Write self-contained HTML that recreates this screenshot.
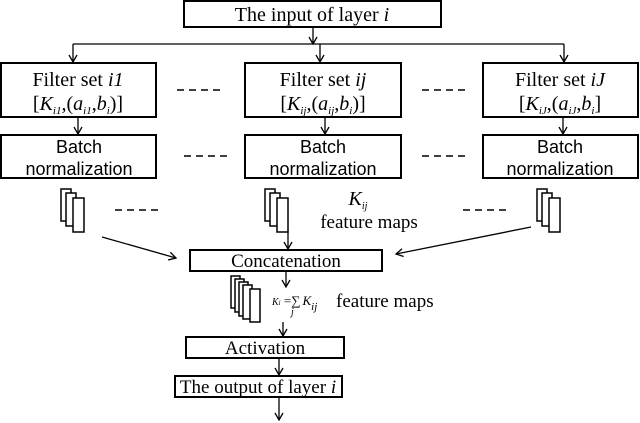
<!DOCTYPE html>
<html><head><style>body{margin:0;background:#fff}svg{display:block}</style></head><body>
<svg width="640" height="423" viewBox="0 0 640 423" xmlns="http://www.w3.org/2000/svg" font-family="Liberation Serif, serif" fill="none" stroke="#000">
<defs><marker id="a" markerWidth="10" markerHeight="10" refX="8" refY="5" orient="auto" markerUnits="userSpaceOnUse"><path d="M1,1 L8,5 L1,9" stroke="#000" stroke-width="1.3" fill="none"/></marker></defs>
<g stroke-width="2">
<rect x="184" y="1" width="257" height="26"/>
<rect x="1" y="63" width="155" height="54"/>
<rect x="245" y="63" width="156" height="54"/>
<rect x="483" y="63" width="155" height="54"/>
<rect x="1" y="135" width="155" height="43"/>
<rect x="245" y="135" width="156" height="43"/>
<rect x="483" y="135" width="155" height="43"/>
<rect x="190" y="250" width="192" height="21"/>
<rect x="186" y="337" width="158" height="21"/>
<rect x="175" y="376" width="167" height="21"/>
</g>
<g stroke-width="1.3" marker-end="url(#a)">
<line x1="313" y1="27" x2="313" y2="44"/>
<line x1="73" y1="44" x2="73" y2="62"/>
<line x1="320" y1="44" x2="320" y2="62"/>
<line x1="564" y1="44" x2="564" y2="62"/>
<line x1="78" y1="117" x2="78" y2="134"/>
<line x1="325" y1="117" x2="325" y2="134"/>
<line x1="563" y1="117" x2="563" y2="134"/>
<line x1="288" y1="231" x2="288" y2="249"/>
<line x1="102" y1="237" x2="176" y2="258"/>
<line x1="531" y1="227" x2="396" y2="254"/>
<line x1="286" y1="271" x2="286" y2="287"/>
<line x1="283" y1="322" x2="283" y2="336"/>
<line x1="279" y1="358" x2="279" y2="375"/>
<line x1="279" y1="397" x2="279" y2="420"/>
</g>
<line x1="73" y1="44" x2="564" y2="44" stroke-width="1.3"/>
<g stroke-width="1.5" stroke-dasharray="7,5">
<line x1="177" y1="90" x2="220" y2="90"/><line x1="422" y1="90" x2="465" y2="90"/>
<line x1="184" y1="156" x2="227" y2="156"/><line x1="422" y1="156" x2="465" y2="156"/>
<line x1="115" y1="210" x2="158" y2="210"/><line x1="463" y1="210" x2="506" y2="210"/>
</g>
<g stroke-width="1.5" fill="#fff">
<rect x="61" y="189" width="10" height="32"/><rect x="66" y="193" width="10" height="33"/><rect x="73" y="198" width="11" height="34"/>
<rect x="265" y="189" width="10" height="32"/><rect x="270" y="193" width="10" height="33"/><rect x="277" y="198" width="11" height="34"/>
<rect x="537" y="189" width="10" height="32"/><rect x="542" y="193" width="10" height="33"/><rect x="549" y="198" width="11" height="34"/>
<rect x="231" y="276" width="9" height="32"/><rect x="235" y="279" width="9" height="33"/><rect x="239" y="282" width="9" height="34"/><rect x="243" y="285" width="9" height="34"/><rect x="250" y="289" width="10" height="33"/>
</g>
<g fill="#000" stroke="none" font-size="20" text-anchor="middle">
<text x="312" y="21">The input of layer <tspan font-style="italic">i</tspan></text>
<text x="78" y="86">Filter set <tspan font-style="italic">i1</tspan></text>
<text x="78" y="110">[<tspan font-style="italic">K<tspan font-size="11" dy="4">i1</tspan></tspan><tspan dy="-4">,(</tspan><tspan font-style="italic">a<tspan font-size="11" dy="4">i1</tspan></tspan><tspan dy="-4">,</tspan><tspan font-style="italic">b<tspan font-size="11" dy="4">i</tspan></tspan><tspan dy="-4">)]</tspan></text>
<text x="323" y="86">Filter set <tspan font-style="italic">ij</tspan></text>
<text x="323" y="110">[<tspan font-style="italic">K<tspan font-size="11" dy="4">ij</tspan></tspan><tspan dy="-4">,(</tspan><tspan font-style="italic">a<tspan font-size="11" dy="4">ij</tspan></tspan><tspan dy="-4">,</tspan><tspan font-style="italic">b<tspan font-size="11" dy="4">i</tspan></tspan><tspan dy="-4">)]</tspan></text>
<text x="560" y="86">Filter set <tspan font-style="italic">iJ</tspan></text>
<text x="560" y="110">[<tspan font-style="italic">K<tspan font-size="11" dy="4">iJ</tspan></tspan><tspan dy="-4">,(</tspan><tspan font-style="italic">a<tspan font-size="11" dy="4">iJ</tspan></tspan><tspan dy="-4">,</tspan><tspan font-style="italic">b<tspan font-size="11" dy="4">i</tspan></tspan><tspan dy="-4">]</tspan></text>
<g font-family="Liberation Sans, sans-serif" font-size="18">
<text x="79" y="153">Batch</text><text x="79" y="175">normalization</text>
<text x="323" y="153">Batch</text><text x="323" y="175">normalization</text>
<text x="560" y="153">Batch</text><text x="560" y="175">normalization</text>
</g>
<text x="358" y="205" font-style="italic">K<tspan font-size="10" dy="4">ij</tspan></text>
<text x="369" y="228" font-size="19">feature maps</text>
<text x="286" y="267" font-size="19">Concatenation</text>
<text x="265" y="354" font-size="19">Activation</text>
<text x="258" y="393" font-size="19">The output of layer <tspan font-style="italic">i</tspan></text>
<text x="272" y="305" font-size="10" text-anchor="start" font-style="italic">K<tspan font-size="7">i</tspan><tspan font-style="normal" font-size="13"> =∑</tspan><tspan dx="2" font-size="13">K<tspan font-size="11" dy="5">ij</tspan></tspan></text>
<text x="291" y="315" font-size="10" font-style="italic" text-anchor="start">j</text>
<text x="336" y="307" font-size="19" text-anchor="start">feature maps</text>
</g>
</svg>
</body></html>
